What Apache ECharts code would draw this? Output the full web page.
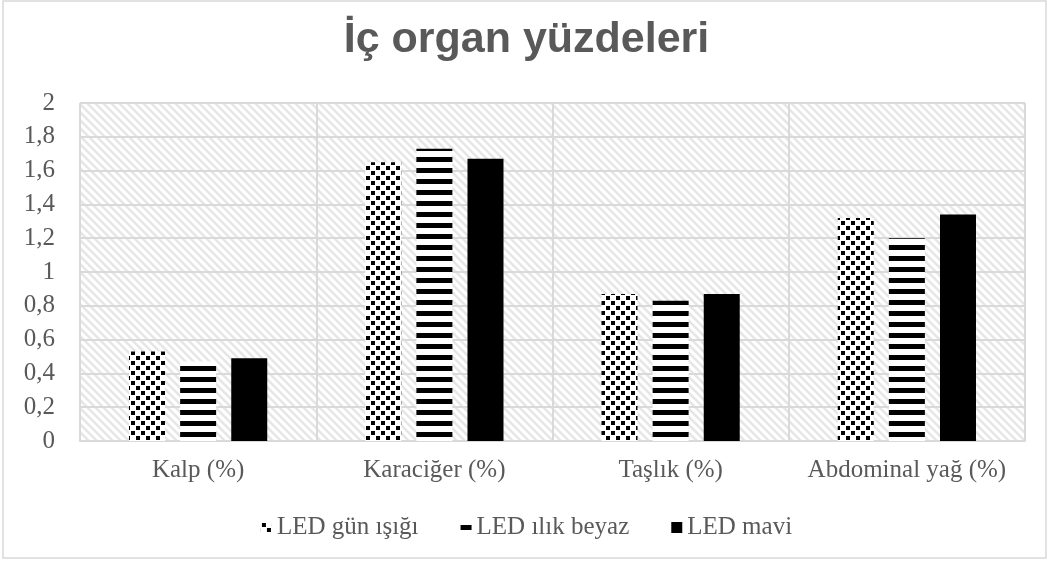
<!DOCTYPE html>
<html>
<head>
<meta charset="utf-8">
<script src="https://cdn.jsdelivr.net/npm/echarts@6/dist/echarts.min.js"></script>
<style>
  html, body { margin: 0; padding: 0; background: #fff; }
  #chart { width: 1053px; height: 567px; }
</style>
</head>
<body>
<div id="chart"></div>
<script>
var categories = ['Kalp (%)', 'Karaciğer (%)', 'Taşlık (%)', 'Abdominal yağ (%)'];
var seriesNames = ['LED gün ışığı', 'LED ılık beyaz', 'LED mavi'];
var gunIsigi = [0.53, 1.65, 0.87, 1.32];
var ilikBeyaz = [0.47, 1.73, 0.83, 1.20];
var mavi = [0.49, 1.67, 0.87, 1.34];

// desenler
function makeCanvas(w, h, draw) {
  var c = document.createElement('canvas');
  c.width = w; c.height = h;
  draw(c.getContext('2d'));
  return c;
}

var hatchBg = makeCanvas(8, 8, function (ctx) {
  ctx.fillStyle = '#fff';
  ctx.fillRect(0, 0, 8, 8);
  ctx.strokeStyle = '#e6e6e6';
  ctx.lineWidth = 2.5;
  ctx.beginPath();
  ctx.moveTo(-2, -2); ctx.lineTo(10, 10);
  ctx.moveTo(-2, 6); ctx.lineTo(2, 10);
  ctx.moveTo(6, -2); ctx.lineTo(10, 2);
  ctx.stroke();
});

var dots = makeCanvas(10, 10, function (ctx) {
  ctx.fillStyle = '#fff';
  ctx.fillRect(0, 0, 10, 10);
  ctx.fillStyle = '#000';
  ctx.fillRect(1, 1, 4, 4);
  ctx.fillRect(6, 6, 4, 4);
});

var stripes = makeCanvas(10, 11, function (ctx) {
  ctx.fillStyle = '#fff';
  ctx.fillRect(0, 0, 10, 11);
  ctx.fillStyle = '#000';
  ctx.fillRect(0, 3, 10, 5);
});

var chart = echarts.init(document.getElementById('chart'));

var labelFont = {
  fontFamily: 'Liberation Serif',
  fontSize: 25,
  color: '#595959'
};

var option = {
  backgroundColor: '#fff',
  animation: false,
  title: {
    text: 'İç organ yüzdeleri',
    left: 'center',
    top: 14,
    textStyle: {
      fontFamily: 'Liberation Sans',
      fontSize: 43,
      fontWeight: 'bold',
      color: '#595959'
    }
  },
  graphic: [{
    type: 'rect',
    shape: { x: 3, y: 1, width: 1043, height: 557 },
    style: { fill: 'none', stroke: '#d9d9d9', lineWidth: 1.5 },
    silent: true
  }],
  legend: {
    bottom: 22,
    left: 'center',
    itemWidth: 11,
    itemHeight: 11,
    itemGap: 42,
    icon: 'rect',
    textStyle: labelFont,
    data: seriesNames
  },
  grid: {
    left: 80,
    right: 28,
    top: 103,
    bottom: 126,
    show: true,
    borderWidth: 0,
    backgroundColor: { image: hatchBg, repeat: 'repeat' }
  },
  xAxis: {
    type: 'category',
    data: categories,
    axisLine: { lineStyle: { color: '#d9d9d9', width: 2 } },
    axisTick: { show: false },
    splitLine: { show: true, interval: 0, lineStyle: { color: '#d9d9d9', width: 2 } },
    axisLabel: Object.assign({ margin: 17, interval: 0 }, labelFont)
  },
  yAxis: {
    type: 'value',
    min: 0,
    max: 2,
    interval: 0.2,
    axisLine: { show: false },
    axisTick: { show: false },
    splitLine: { lineStyle: { color: '#d9d9d9', width: 2 } },
    axisLabel: Object.assign({
      margin: 25,
      formatter: function (v) { return String(Math.round(v * 10) / 10).replace('.', ','); }
    }, labelFont)
  },
  series: [
    {
      name: seriesNames[0], type: 'bar', data: gunIsigi,
      barWidth: 36, barGap: '42%',
      itemStyle: { color: { image: dots, repeat: 'repeat' } }
    },
    {
      name: seriesNames[1], type: 'bar', data: ilikBeyaz,
      barWidth: 36, barGap: '42%',
      itemStyle: { color: { image: stripes, repeat: 'repeat' } }
    },
    {
      name: seriesNames[2], type: 'bar', data: mavi,
      barWidth: 36, barGap: '42%',
      itemStyle: { color: '#000' }
    }
  ]
};

chart.setOption(option);
</script>
</body>
</html>
